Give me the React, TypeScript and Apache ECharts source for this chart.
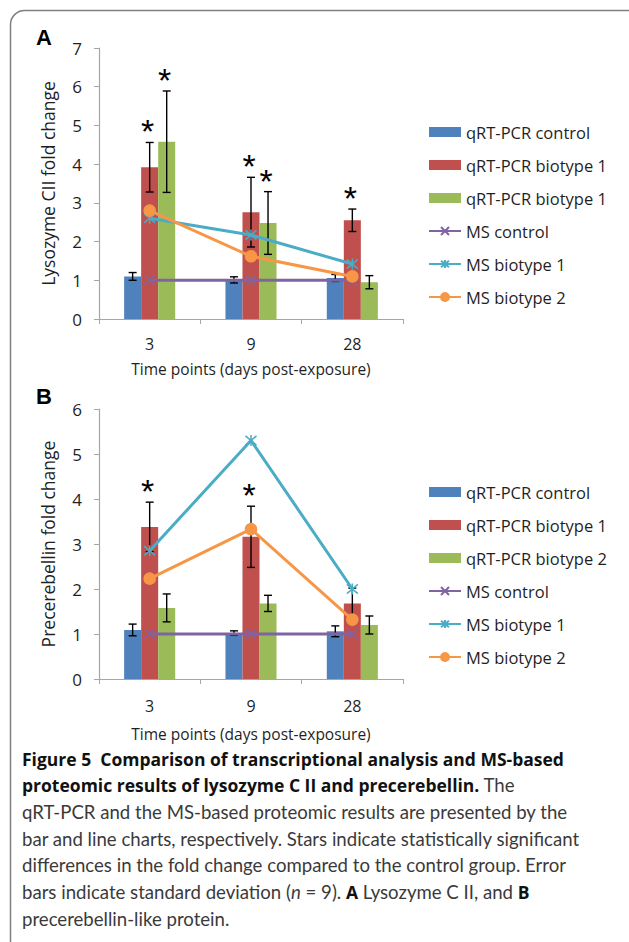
import React, { useEffect, useRef } from "react";
import * as echarts from "echarts";

// ---------- data ----------
const CATS = ["3", "9", "28"];

// Panel A – lysozyme C II
const A_CTRL = [1.1, 1.01, 1.06];
const A_CTRL_ERR = [0.1, 0.08, 0.09];
const A_B1 = [3.92, 2.76, 2.55];
const A_B1_ERR = [0.64, 0.9, 0.29];
const A_B2 = [4.58, 2.48, 0.95];
const A_B2_ERR = [1.31, 0.81, 0.17];
const A_MS_CTRL = [1, 1, 1];
const A_MS_B1 = [2.6, 2.17, 1.42];
const A_MS_B2 = [2.8, 1.62, 1.1];
const A_SIG_B1 = [1, 1, 1];
const A_SIG_B2 = [1, 1, 0];

// Panel B – precerebellin
const B_CTRL = [1.09, 1.02, 1.06];
const B_CTRL_ERR = [0.13, 0.05, 0.12];
const B_B1 = [3.38, 3.16, 1.68];
const B_B1_ERR = [0.55, 0.68, 0.34];
const B_B2 = [1.58, 1.68, 1.2];
const B_B2_ERR = [0.31, 0.18, 0.2];
const B_MS_CTRL = [1, 1, 1];
const B_MS_B1 = [2.85, 5.3, 2.0];
const B_MS_B2 = [2.23, 3.33, 1.32];
const B_SIG_B1 = [1, 1, 0];
const B_SIG_B2 = [0, 0, 0];

const A_TICKS_MAX = 7;
const B_TICKS_MAX = 6;

const LEGEND_A = ["qRT-PCR control", "qRT-PCR biotype 1", "qRT-PCR biotype 1", "MS control", "MS biotype 1", "MS biotype 2"];
const LEGEND_B = ["qRT-PCR control", "qRT-PCR biotype 1", "qRT-PCR biotype 2", "MS control", "MS biotype 1", "MS biotype 2"];

const Y_TITLE_A = "Lysozyme CII fold change";
const Y_TITLE_B = "Precerebellin fold change";
const X_TITLE = "Time points (days post-exposure)";

const CAPTION = [
  "{b|Figure 5  Comparison of transcriptional analysis and MS-based}",
  "{b|proteomic results of lysozyme C II and precerebellin.}{n| The}",
  "{n|qRT-PCR and the MS-based proteomic results are presented by the}",
  "{n|bar and line charts, respectively. Stars indicate statistically significant}",
  "{n|differences in the fold change compared to the control group. Error}",
  "{n|bars indicate standard deviation (}{i|n}{n| = 9). }{bb|A}{n| Lysozyme C II, and }{bb|B}",
  "{n|precerebellin-like protein.}",
];

// ---------- styles ----------
const C_BLUE = "#4F81BD";
const C_RED = "#C0504D";
const C_GREEN = "#9BBB59";
const C_PURPLE = "#8064A2";
const C_TEAL = "#4BACC6";
const C_ORANGE = "#F79646";
const AXIS_C = "#A6A6A6";
const TXT = "#1f1f1f";
const FONT = "Open Sans";
const BAR_FRAC = 0.168;

const SYM_X = "path://M0,0L10,10M10,0L0,10";
const SYM_STAR = "path://M0,0L10,10M10,0L0,10M5,-1L5,11";

function errSeries(name: string, ax: number, values: number[], errs: number[], sig: number[], k: number) {
  return {
    type: "custom",
    name,
    xAxisIndex: ax,
    yAxisIndex: ax,
    z: 3,
    silent: true,
    data: values.map((v, i) => [i, v, errs[i], sig[i]]),
    encode: { x: 0, y: 1 },
    renderItem: (params: any, api: any) => {
      const cat = api.value(0);
      const v = api.value(1);
      const e = api.value(2);
      const s = api.value(3);
      const band = api.size([1, 0])[0];
      const off = (k - 1) * band * BAR_FRAC;
      const top = api.coord([cat, v + e]);
      const bot = api.coord([cat, v - e]);
      const x = top[0] + off;
      const cap = 4;
      const ls = { stroke: "#000", lineWidth: 1.4 };
      const children: any[] = [
        { type: "line", shape: { x1: x, y1: top[1], x2: x, y2: bot[1] }, style: ls },
        { type: "line", shape: { x1: x - cap, y1: top[1], x2: x + cap, y2: top[1] }, style: ls },
        { type: "line", shape: { x1: x - cap, y1: bot[1], x2: x + cap, y2: bot[1] }, style: ls },
      ];
      if (s) {
        children.push({
          type: "text",
          x: x - 2,
          y: top[1] + 6,
          style: {
            text: "*",
            fill: "#000",
            fontSize: 34,
            fontFamily: "Liberation Sans",
            align: "center",
            verticalAlign: "bottom",
          },
        });
      }
      return { type: "group", children };
    },
  };
}

function panelSeries(p: string, ax: number, bars: number[][], errs: number[][], sigs: number[][], lines: number[][]) {
  const barColors = [C_BLUE, C_RED, C_GREEN];
  const out: any[] = [];
  bars.forEach((d, k) => {
    out.push({
      type: "bar",
      name: p + k,
      xAxisIndex: ax,
      yAxisIndex: ax,
      data: d,
      barWidth: BAR_FRAC * 100 + "%",
      barGap: "0%",
      itemStyle: { color: barColors[k] },
      z: 2,
    });
  });
  const lineDefs = [
    { c: C_PURPLE, sym: SYM_X, size: 10 },
    { c: C_TEAL, sym: SYM_STAR, size: 11 },
    { c: C_ORANGE, sym: "circle", size: 11 },
  ];
  lines.forEach((d, j) => {
    const ld = lineDefs[j];
    out.push({
      type: "line",
      name: p + (j + 3),
      xAxisIndex: ax,
      yAxisIndex: ax,
      data: d,
      symbol: ld.sym,
      symbolSize: ld.size,
      showSymbol: true,
      lineStyle: { color: ld.c, width: 3 },
      itemStyle: { color: ld.c, borderColor: ld.c, borderWidth: 1.5 },
      z: 5,
    });
  });
  errs.forEach((e, k) => {
    out.push(errSeries("err" + p + k, ax, bars[k], e, sigs[k], k));
  });
  return out;
}

function legendFor(p: string, labels: string[], top: number) {
  return {
    left: 428,
    top,
    padding: 0,
    orient: "vertical",
    itemWidth: 32,
    itemHeight: 10,
    itemGap: 13,
    selectedMode: false,
    data: labels.map((_, i) => (i < 3 ? { name: p + i, icon: "rect" } : { name: p + i })),
    formatter: (name: string) => labels[Number(name.slice(1))],
    textStyle: { fontFamily: FONT, fontSize: 16.5, color: TXT, lineHeight: 20 },
  };
}

function xAx(grid: number, gap: number, margin: number) {
  return {
    type: "category",
    gridIndex: grid,
    data: CATS,
    axisLine: { lineStyle: { color: AXIS_C, width: 1.2 } },
    axisTick: { show: true, length: 5, lineStyle: { color: AXIS_C } },
    axisLabel: { margin, fontSize: 16, lineHeight: 16, color: TXT, fontFamily: FONT },
    name: X_TITLE,
    nameLocation: "middle",
    nameGap: gap,
    nameTextStyle: { fontSize: 15.5, lineHeight: 16, color: TXT, fontFamily: FONT },
  };
}

function yAx(grid: number, max: number, title: string) {
  return {
    type: "value",
    gridIndex: grid,
    min: 0,
    max,
    interval: 1,
    splitLine: { show: false },
    axisLine: { show: true, lineStyle: { color: AXIS_C, width: 1.2 } },
    axisTick: { show: true, length: 5, lineStyle: { color: AXIS_C } },
    axisLabel: { margin: 17, fontSize: 17, color: TXT, fontFamily: FONT },
    name: title,
    nameLocation: "middle",
    nameGap: 42,
    nameTextStyle: { fontSize: 17.5, color: TXT, fontFamily: FONT },
  };
}

export default function App() {
  const ref = useRef<HTMLDivElement>(null);
  useEffect(() => {
    if (!ref.current) return;
    const chart = echarts.init(ref.current, null, { renderer: "svg" });
    const nStyle = { fontFamily: "Lato", fontSize: 18.6, fill: "#3a3a3a", color: "#3a3a3a" };
    const bStyle = { fontFamily: "Open Sans", fontSize: 17.5, fontWeight: "bold", fill: "#111", color: "#111" };
    const captionEls = CAPTION.map((t, i) => ({
      type: "text",
      x: 22,
      y: 768 + i * 26.7,
      style: {
        text: t,
        fill: "#333",
        fontFamily: "Lato",
        fontSize: 18.6,
        verticalAlign: "bottom",
        rich: {
          b: bStyle,
          bb: bStyle,
          n: nStyle,
          i: { ...nStyle, fontStyle: "italic" },
        },
      },
    }));
    const option: any = {
      animation: false,
      textStyle: { fontFamily: FONT },
      grid: [
        { left: 99, top: 48, width: 304, height: 271 },
        { left: 99, top: 409, width: 304, height: 270 },
      ],
      xAxis: [xAx(0, 42, 17), xAx(1, 47, 19)],
      yAxis: [yAx(0, A_TICKS_MAX, Y_TITLE_A), yAx(1, B_TICKS_MAX, Y_TITLE_B)],
      legend: [legendFor("A", LEGEND_A, 122), legendFor("B", LEGEND_B, 482)],
      series: [
        ...panelSeries("A", 0, [A_CTRL, A_B1, A_B2], [A_CTRL_ERR, A_B1_ERR, A_B2_ERR], [[0, 0, 0], A_SIG_B1, A_SIG_B2], [A_MS_CTRL, A_MS_B1, A_MS_B2]),
        ...panelSeries("B", 1, [B_CTRL, B_B1, B_B2], [B_CTRL_ERR, B_B1_ERR, B_B2_ERR], [[0, 0, 0], B_SIG_B1, B_SIG_B2], [B_MS_CTRL, B_MS_B1, B_MS_B2]),
      ],
      graphic: [
        {
          type: "rect",
          shape: { x: 10.5, y: 10.5, width: 650, height: 960, r: 14 },
          style: { fill: "none", stroke: "#7f7f7f", lineWidth: 1.5 },
          silent: true,
        },
        { type: "text", x: 36, y: 26, style: { text: "A", fontFamily: "Liberation Sans", fontWeight: "bold", fontSize: 22, fill: "#000" } },
        { type: "text", x: 36, y: 385, style: { text: "B", fontFamily: "Liberation Sans", fontWeight: "bold", fontSize: 22, fill: "#000" } },
        ...captionEls,
      ],
    };
    chart.setOption(option);
    return () => chart.dispose();
  }, []);
  return <div ref={ref} style={{ position: "absolute", left: 0, top: 0, width: 629, height: 942, background: "#fff" }} />;
}
